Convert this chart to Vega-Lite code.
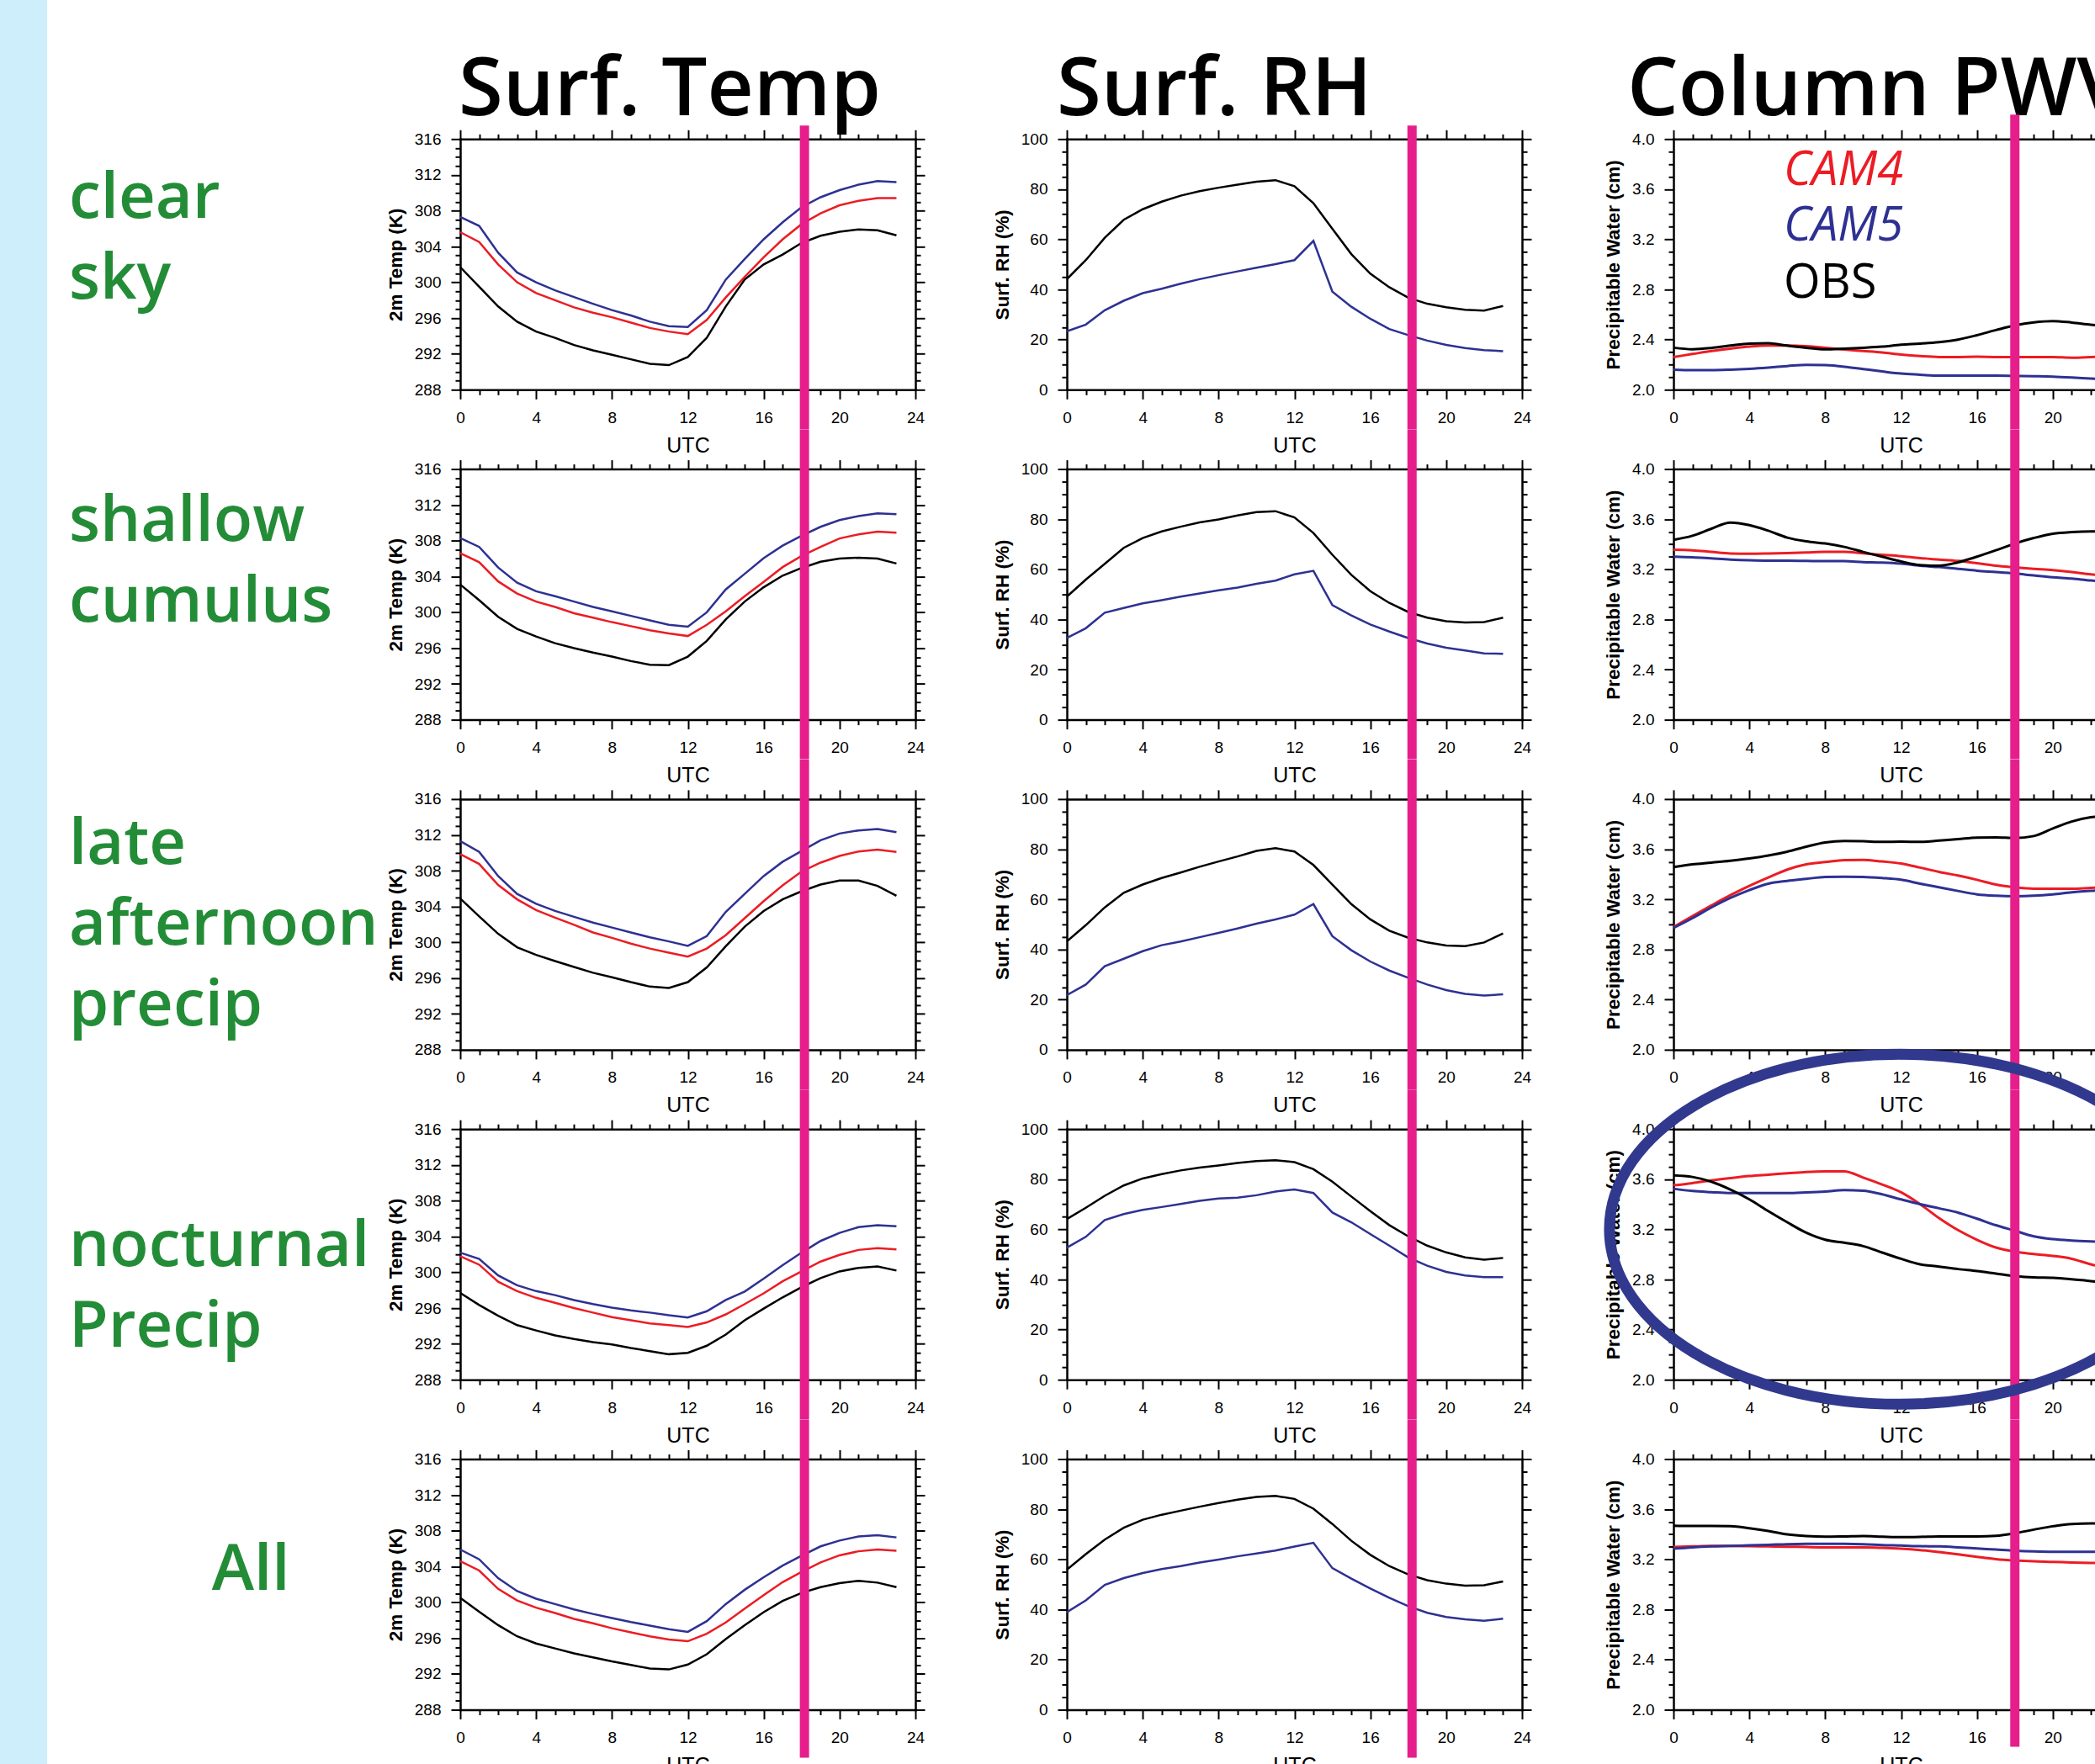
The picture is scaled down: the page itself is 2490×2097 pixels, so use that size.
{
"$schema":"https://vega.github.io/schema/vega-lite/v6.json",
"padding":0,
"background":"white",
"config":{
 "view":{"stroke":null},
 "axis":{"domainColor":"#000000","domainWidth":2.5,"domainCap":"square","tickColor":"#000000","tickWidth":2,"grid":false,"labelFont":"Liberation Sans","labelFontSize":19,"labelColor":"#000000","labelOverlap":false,"labelFlush":false,"labelBound":false,"labelPadding":12,"titleFont":"Liberation Sans","titleColor":"#000000","titlePadding":10},
 "axisX":{"titleFontSize":25,"titleFontWeight":"normal","labelPadding":13,"titlePadding":11},
 "axisY":{"titleFontSize":22.5,"titleFontWeight":"bold"},
 "title":{"font":"Open Sans","fontSize":96,"fontWeight":600,"color":"#000000","anchor":"start","frame":"group","orient":"bottom","baseline":"alphabetic","offset":-9.7}
},
"datasets":{"d":[
{"cat":"clear","utc":0,"T_CAM4":305.6,"T_CAM5":307.3,"T_OBS":301.7,"RH_CAM5":23.3,"RH_OBS":44.1,"PW_CAM4":2.261,"PW_CAM5":2.160,"PW_OBS":2.335},
{"cat":"clear","utc":1,"T_CAM4":304.5,"T_CAM5":306.3,"T_OBS":299.5,"RH_CAM5":26.0,"RH_OBS":51.7,"PW_CAM4":2.285,"PW_CAM5":2.156,"PW_OBS":2.323},
{"cat":"clear","utc":2,"T_CAM4":302.0,"T_CAM5":303.3,"T_OBS":297.3,"RH_CAM5":31.7,"RH_OBS":60.6,"PW_CAM4":2.309,"PW_CAM5":2.156,"PW_OBS":2.333},
{"cat":"clear","utc":3,"T_CAM4":300.0,"T_CAM5":301.1,"T_OBS":295.6,"RH_CAM5":35.5,"RH_OBS":67.8,"PW_CAM4":2.328,"PW_CAM5":2.160,"PW_OBS":2.352},
{"cat":"clear","utc":4,"T_CAM4":298.8,"T_CAM5":300.0,"T_OBS":294.5,"RH_CAM5":38.5,"RH_OBS":72.0,"PW_CAM4":2.344,"PW_CAM5":2.167,"PW_OBS":2.368},
{"cat":"clear","utc":5,"T_CAM4":298.0,"T_CAM5":299.1,"T_OBS":293.8,"RH_CAM5":40.3,"RH_OBS":75.0,"PW_CAM4":2.352,"PW_CAM5":2.177,"PW_OBS":2.371},
{"cat":"clear","utc":6,"T_CAM4":297.2,"T_CAM5":298.35,"T_OBS":293.0,"RH_CAM5":42.3,"RH_OBS":77.4,"PW_CAM4":2.352,"PW_CAM5":2.189,"PW_OBS":2.352},
{"cat":"clear","utc":7,"T_CAM4":296.6,"T_CAM5":297.6,"T_OBS":292.4,"RH_CAM5":44.1,"RH_OBS":79.2,"PW_CAM4":2.347,"PW_CAM5":2.199,"PW_OBS":2.335},
{"cat":"clear","utc":8,"T_CAM4":296.1,"T_CAM5":296.9,"T_OBS":291.9,"RH_CAM5":45.7,"RH_OBS":80.6,"PW_CAM4":2.335,"PW_CAM5":2.196,"PW_OBS":2.323},
{"cat":"clear","utc":9,"T_CAM4":295.5,"T_CAM5":296.3,"T_OBS":291.4,"RH_CAM5":47.2,"RH_OBS":81.8,"PW_CAM4":2.321,"PW_CAM5":2.184,"PW_OBS":2.328},
{"cat":"clear","utc":10,"T_CAM4":294.9,"T_CAM5":295.6,"T_OBS":290.9,"RH_CAM5":48.7,"RH_OBS":83.0,"PW_CAM4":2.309,"PW_CAM5":2.165,"PW_OBS":2.335},
{"cat":"clear","utc":11,"T_CAM4":294.5,"T_CAM5":295.1,"T_OBS":290.75,"RH_CAM5":50.1,"RH_OBS":83.6,"PW_CAM4":2.297,"PW_CAM5":2.146,"PW_OBS":2.344},
{"cat":"clear","utc":12,"T_CAM4":294.2,"T_CAM5":295.0,"T_OBS":291.65,"RH_CAM5":51.7,"RH_OBS":81.2,"PW_CAM4":2.280,"PW_CAM5":2.129,"PW_OBS":2.359},
{"cat":"clear","utc":13,"T_CAM4":295.8,"T_CAM5":296.9,"T_OBS":293.8,"RH_CAM5":59.4,"RH_OBS":74.4,"PW_CAM4":2.268,"PW_CAM5":2.120,"PW_OBS":2.368},
{"cat":"clear","utc":14,"T_CAM4":298.3,"T_CAM5":300.3,"T_OBS":297.3,"RH_CAM5":39.1,"RH_OBS":64.2,"PW_CAM4":2.261,"PW_CAM5":2.112,"PW_OBS":2.380},
{"cat":"clear","utc":15,"T_CAM4":300.6,"T_CAM5":302.6,"T_OBS":300.3,"RH_CAM5":33.1,"RH_OBS":54.1,"PW_CAM4":2.261,"PW_CAM5":2.112,"PW_OBS":2.400},
{"cat":"clear","utc":16,"T_CAM4":302.8,"T_CAM5":304.8,"T_OBS":302.0,"RH_CAM5":28.3,"RH_OBS":46.3,"PW_CAM4":2.263,"PW_CAM5":2.112,"PW_OBS":2.435},
{"cat":"clear","utc":17,"T_CAM4":304.8,"T_CAM5":306.7,"T_OBS":303.1,"RH_CAM5":24.2,"RH_OBS":40.9,"PW_CAM4":2.261,"PW_CAM5":2.112,"PW_OBS":2.476},
{"cat":"clear","utc":18,"T_CAM4":306.5,"T_CAM5":308.4,"T_OBS":304.4,"RH_CAM5":21.8,"RH_OBS":36.7,"PW_CAM4":2.261,"PW_CAM5":2.110,"PW_OBS":2.514},
{"cat":"clear","utc":19,"T_CAM4":307.7,"T_CAM5":309.5,"T_OBS":305.2,"RH_CAM5":19.6,"RH_OBS":34.3,"PW_CAM4":2.261,"PW_CAM5":2.108,"PW_OBS":2.538},
{"cat":"clear","utc":20,"T_CAM4":308.6,"T_CAM5":310.3,"T_OBS":305.65,"RH_CAM5":17.9,"RH_OBS":32.9,"PW_CAM4":2.261,"PW_CAM5":2.105,"PW_OBS":2.548},
{"cat":"clear","utc":21,"T_CAM4":309.1,"T_CAM5":310.9,"T_OBS":305.9,"RH_CAM5":16.6,"RH_OBS":31.9,"PW_CAM4":2.256,"PW_CAM5":2.098,"PW_OBS":2.536},
{"cat":"clear","utc":22,"T_CAM4":309.4,"T_CAM5":311.3,"T_OBS":305.8,"RH_CAM5":15.8,"RH_OBS":31.6,"PW_CAM4":2.261,"PW_CAM5":2.089,"PW_OBS":2.519},
{"cat":"clear","utc":23,"T_CAM4":309.4,"T_CAM5":311.2,"T_OBS":305.25,"RH_CAM5":15.4,"RH_OBS":33.4,"PW_CAM4":2.268,"PW_CAM5":2.081,"PW_OBS":2.507},
{"cat":"shallow","utc":0,"T_CAM4":306.6,"T_CAM5":308.3,"T_OBS":303.1,"RH_CAM5":32.6,"RH_OBS":49.1,"PW_CAM4":3.356,"PW_CAM5":3.301,"PW_OBS":3.435},
{"cat":"shallow","utc":1,"T_CAM4":305.6,"T_CAM5":307.3,"T_OBS":301.35,"RH_CAM5":36.5,"RH_OBS":55.9,"PW_CAM4":3.352,"PW_CAM5":3.296,"PW_OBS":3.468},
{"cat":"shallow","utc":2,"T_CAM4":303.45,"T_CAM5":305.0,"T_OBS":299.5,"RH_CAM5":42.7,"RH_OBS":62.2,"PW_CAM4":3.339,"PW_CAM5":3.287,"PW_OBS":3.524},
{"cat":"shallow","utc":3,"T_CAM4":302.1,"T_CAM5":303.3,"T_OBS":298.15,"RH_CAM5":44.6,"RH_OBS":68.6,"PW_CAM4":3.327,"PW_CAM5":3.278,"PW_OBS":3.573},
{"cat":"shallow","utc":4,"T_CAM4":301.2,"T_CAM5":302.35,"T_OBS":297.3,"RH_CAM5":46.4,"RH_OBS":72.5,"PW_CAM4":3.325,"PW_CAM5":3.272,"PW_OBS":3.553},
{"cat":"shallow","utc":5,"T_CAM4":300.6,"T_CAM5":301.8,"T_OBS":296.55,"RH_CAM5":47.7,"RH_OBS":75.1,"PW_CAM4":3.327,"PW_CAM5":3.269,"PW_OBS":3.508},
{"cat":"shallow","utc":6,"T_CAM4":299.9,"T_CAM5":301.2,"T_OBS":296.0,"RH_CAM5":49.1,"RH_OBS":77.0,"PW_CAM4":3.330,"PW_CAM5":3.269,"PW_OBS":3.453},
{"cat":"shallow","utc":7,"T_CAM4":299.4,"T_CAM5":300.6,"T_OBS":295.5,"RH_CAM5":50.4,"RH_OBS":78.7,"PW_CAM4":3.334,"PW_CAM5":3.267,"PW_OBS":3.423},
{"cat":"shallow","utc":8,"T_CAM4":298.9,"T_CAM5":300.1,"T_OBS":295.05,"RH_CAM5":51.6,"RH_OBS":79.9,"PW_CAM4":3.339,"PW_CAM5":3.265,"PW_OBS":3.406},
{"cat":"shallow","utc":9,"T_CAM4":298.45,"T_CAM5":299.6,"T_OBS":294.55,"RH_CAM5":52.7,"RH_OBS":81.5,"PW_CAM4":3.339,"PW_CAM5":3.265,"PW_OBS":3.379},
{"cat":"shallow","utc":10,"T_CAM4":298.0,"T_CAM5":299.1,"T_OBS":294.15,"RH_CAM5":54.2,"RH_OBS":82.8,"PW_CAM4":3.327,"PW_CAM5":3.258,"PW_OBS":3.339},
{"cat":"shallow","utc":11,"T_CAM4":297.65,"T_CAM5":298.6,"T_OBS":294.1,"RH_CAM5":55.5,"RH_OBS":83.2,"PW_CAM4":3.316,"PW_CAM5":3.254,"PW_OBS":3.301},
{"cat":"shallow","utc":12,"T_CAM4":297.35,"T_CAM5":298.4,"T_OBS":295.05,"RH_CAM5":58.0,"RH_OBS":80.7,"PW_CAM4":3.305,"PW_CAM5":3.245,"PW_OBS":3.263},
{"cat":"shallow","utc":13,"T_CAM4":298.6,"T_CAM5":300.0,"T_OBS":296.8,"RH_CAM5":59.4,"RH_OBS":74.5,"PW_CAM4":3.289,"PW_CAM5":3.229,"PW_OBS":3.234},
{"cat":"shallow","utc":14,"T_CAM4":300.1,"T_CAM5":302.55,"T_OBS":299.2,"RH_CAM5":45.7,"RH_OBS":65.8,"PW_CAM4":3.278,"PW_CAM5":3.218,"PW_OBS":3.229},
{"cat":"shallow","utc":15,"T_CAM4":301.8,"T_CAM5":304.3,"T_OBS":301.2,"RH_CAM5":41.6,"RH_OBS":57.8,"PW_CAM4":3.267,"PW_CAM5":3.204,"PW_OBS":3.256},
{"cat":"shallow","utc":16,"T_CAM4":303.4,"T_CAM5":306.05,"T_OBS":302.8,"RH_CAM5":38.0,"RH_OBS":51.3,"PW_CAM4":3.249,"PW_CAM5":3.189,"PW_OBS":3.301},
{"cat":"shallow","utc":17,"T_CAM4":305.05,"T_CAM5":307.45,"T_OBS":304.1,"RH_CAM5":35.2,"RH_OBS":46.6,"PW_CAM4":3.229,"PW_CAM5":3.178,"PW_OBS":3.352},
{"cat":"shallow","utc":18,"T_CAM4":306.3,"T_CAM5":308.55,"T_OBS":304.95,"RH_CAM5":32.6,"RH_OBS":43.0,"PW_CAM4":3.216,"PW_CAM5":3.166,"PW_OBS":3.406},
{"cat":"shallow","utc":19,"T_CAM4":307.3,"T_CAM5":309.55,"T_OBS":305.65,"RH_CAM5":30.4,"RH_OBS":40.7,"PW_CAM4":3.204,"PW_CAM5":3.151,"PW_OBS":3.450},
{"cat":"shallow","utc":20,"T_CAM4":308.25,"T_CAM5":310.3,"T_OBS":306.0,"RH_CAM5":28.7,"RH_OBS":39.3,"PW_CAM4":3.193,"PW_CAM5":3.137,"PW_OBS":3.484},
{"cat":"shallow","utc":21,"T_CAM4":308.7,"T_CAM5":310.75,"T_OBS":306.1,"RH_CAM5":27.6,"RH_OBS":38.8,"PW_CAM4":3.178,"PW_CAM5":3.126,"PW_OBS":3.497},
{"cat":"shallow","utc":22,"T_CAM4":309.0,"T_CAM5":311.05,"T_OBS":306.0,"RH_CAM5":26.5,"RH_OBS":39.0,"PW_CAM4":3.160,"PW_CAM5":3.111,"PW_OBS":3.502},
{"cat":"shallow","utc":23,"T_CAM4":308.9,"T_CAM5":310.95,"T_OBS":305.45,"RH_CAM5":26.3,"RH_OBS":40.7,"PW_CAM4":3.149,"PW_CAM5":3.100,"PW_OBS":3.499},
{"cat":"late","utc":0,"T_CAM4":309.85,"T_CAM5":311.3,"T_OBS":304.9,"RH_CAM5":21.8,"RH_OBS":43.2,"PW_CAM4":2.979,"PW_CAM5":2.972,"PW_OBS":3.457},
{"cat":"late","utc":1,"T_CAM4":308.75,"T_CAM5":310.1,"T_OBS":302.9,"RH_CAM5":26.0,"RH_OBS":49.7,"PW_CAM4":3.066,"PW_CAM5":3.050,"PW_OBS":3.479},
{"cat":"late","utc":2,"T_CAM4":306.4,"T_CAM5":307.4,"T_OBS":300.95,"RH_CAM5":33.3,"RH_OBS":56.8,"PW_CAM4":3.151,"PW_CAM5":3.135,"PW_OBS":3.493},
{"cat":"late","utc":3,"T_CAM4":304.8,"T_CAM5":305.4,"T_OBS":299.45,"RH_CAM5":36.3,"RH_OBS":62.6,"PW_CAM4":3.233,"PW_CAM5":3.211,"PW_OBS":3.508},
{"cat":"late","utc":4,"T_CAM4":303.6,"T_CAM5":304.3,"T_OBS":298.6,"RH_CAM5":39.3,"RH_OBS":65.9,"PW_CAM4":3.307,"PW_CAM5":3.274,"PW_OBS":3.526},
{"cat":"late","utc":5,"T_CAM4":302.75,"T_CAM5":303.5,"T_OBS":297.9,"RH_CAM5":41.7,"RH_OBS":68.5,"PW_CAM4":3.374,"PW_CAM5":3.325,"PW_OBS":3.549},
{"cat":"late","utc":6,"T_CAM4":301.95,"T_CAM5":302.85,"T_OBS":297.25,"RH_CAM5":43.2,"RH_OBS":70.7,"PW_CAM4":3.437,"PW_CAM5":3.347,"PW_OBS":3.580},
{"cat":"late","utc":7,"T_CAM4":301.1,"T_CAM5":302.2,"T_OBS":296.6,"RH_CAM5":44.9,"RH_OBS":73.0,"PW_CAM4":3.479,"PW_CAM5":3.363,"PW_OBS":3.620},
{"cat":"late","utc":8,"T_CAM4":300.5,"T_CAM5":301.65,"T_OBS":296.1,"RH_CAM5":46.6,"RH_OBS":75.1,"PW_CAM4":3.497,"PW_CAM5":3.379,"PW_OBS":3.654},
{"cat":"late","utc":9,"T_CAM4":299.85,"T_CAM5":301.1,"T_OBS":295.55,"RH_CAM5":48.4,"RH_OBS":77.1,"PW_CAM4":3.513,"PW_CAM5":3.381,"PW_OBS":3.665},
{"cat":"late","utc":10,"T_CAM4":299.3,"T_CAM5":300.55,"T_OBS":295.05,"RH_CAM5":50.3,"RH_OBS":79.3,"PW_CAM4":3.515,"PW_CAM5":3.379,"PW_OBS":3.663},
{"cat":"late","utc":11,"T_CAM4":298.85,"T_CAM5":300.1,"T_OBS":294.9,"RH_CAM5":52.0,"RH_OBS":80.4,"PW_CAM4":3.502,"PW_CAM5":3.370,"PW_OBS":3.658},
{"cat":"late","utc":12,"T_CAM4":298.4,"T_CAM5":299.6,"T_OBS":295.55,"RH_CAM5":53.9,"RH_OBS":79.1,"PW_CAM4":3.486,"PW_CAM5":3.356,"PW_OBS":3.660},
{"cat":"late","utc":13,"T_CAM4":299.3,"T_CAM5":300.7,"T_OBS":297.2,"RH_CAM5":58.1,"RH_OBS":73.7,"PW_CAM4":3.453,"PW_CAM5":3.325,"PW_OBS":3.658},
{"cat":"late","utc":14,"T_CAM4":300.8,"T_CAM5":303.4,"T_OBS":299.55,"RH_CAM5":45.3,"RH_OBS":65.9,"PW_CAM4":3.419,"PW_CAM5":3.296,"PW_OBS":3.669},
{"cat":"late","utc":15,"T_CAM4":302.7,"T_CAM5":305.4,"T_OBS":301.75,"RH_CAM5":39.7,"RH_OBS":58.1,"PW_CAM4":3.390,"PW_CAM5":3.267,"PW_OBS":3.680},
{"cat":"late","utc":16,"T_CAM4":304.6,"T_CAM5":307.4,"T_OBS":303.5,"RH_CAM5":35.2,"RH_OBS":52.0,"PW_CAM4":3.356,"PW_CAM5":3.240,"PW_OBS":3.692},
{"cat":"late","utc":17,"T_CAM4":306.35,"T_CAM5":309.0,"T_OBS":304.8,"RH_CAM5":31.6,"RH_OBS":47.5,"PW_CAM4":3.318,"PW_CAM5":3.229,"PW_OBS":3.694},
{"cat":"late","utc":18,"T_CAM4":307.9,"T_CAM5":310.2,"T_OBS":305.7,"RH_CAM5":28.7,"RH_OBS":44.7,"PW_CAM4":3.296,"PW_CAM5":3.225,"PW_OBS":3.689},
{"cat":"late","utc":19,"T_CAM4":308.9,"T_CAM5":311.4,"T_OBS":306.45,"RH_CAM5":26.0,"RH_OBS":42.8,"PW_CAM4":3.285,"PW_CAM5":3.229,"PW_OBS":3.705},
{"cat":"late","utc":20,"T_CAM4":309.65,"T_CAM5":312.15,"T_OBS":306.9,"RH_CAM5":23.8,"RH_OBS":41.6,"PW_CAM4":3.285,"PW_CAM5":3.240,"PW_OBS":3.765},
{"cat":"late","utc":21,"T_CAM4":310.15,"T_CAM5":312.5,"T_OBS":306.9,"RH_CAM5":22.3,"RH_OBS":41.3,"PW_CAM4":3.285,"PW_CAM5":3.256,"PW_OBS":3.821},
{"cat":"late","utc":22,"T_CAM4":310.35,"T_CAM5":312.65,"T_OBS":306.3,"RH_CAM5":21.6,"RH_OBS":42.8,"PW_CAM4":3.291,"PW_CAM5":3.267,"PW_OBS":3.855},
{"cat":"late","utc":23,"T_CAM4":310.1,"T_CAM5":312.3,"T_OBS":305.2,"RH_CAM5":22.1,"RH_OBS":46.4,"PW_CAM4":3.296,"PW_CAM5":3.274,"PW_OBS":3.866},
{"cat":"noct","utc":0,"T_CAM4":301.8,"T_CAM5":302.2,"T_OBS":297.7,"RH_CAM5":52.7,"RH_OBS":64.1,"PW_CAM4":3.551,"PW_CAM5":3.524,"PW_OBS":3.631},
{"cat":"noct","utc":1,"T_CAM4":300.85,"T_CAM5":301.5,"T_OBS":296.35,"RH_CAM5":57.0,"RH_OBS":68.6,"PW_CAM4":3.569,"PW_CAM5":3.506,"PW_OBS":3.618},
{"cat":"noct","utc":2,"T_CAM4":298.95,"T_CAM5":299.65,"T_OBS":295.15,"RH_CAM5":63.7,"RH_OBS":73.4,"PW_CAM4":3.591,"PW_CAM5":3.497,"PW_OBS":3.580},
{"cat":"noct","utc":3,"T_CAM4":297.9,"T_CAM5":298.55,"T_OBS":294.1,"RH_CAM5":66.1,"RH_OBS":77.5,"PW_CAM4":3.609,"PW_CAM5":3.490,"PW_OBS":3.517},
{"cat":"noct","utc":4,"T_CAM4":297.15,"T_CAM5":297.9,"T_OBS":293.5,"RH_CAM5":67.8,"RH_OBS":80.3,"PW_CAM4":3.625,"PW_CAM5":3.490,"PW_OBS":3.439},
{"cat":"noct","utc":5,"T_CAM4":296.6,"T_CAM5":297.45,"T_OBS":292.95,"RH_CAM5":68.9,"RH_OBS":82.0,"PW_CAM4":3.636,"PW_CAM5":3.490,"PW_OBS":3.345},
{"cat":"noct","utc":6,"T_CAM4":296.0,"T_CAM5":296.9,"T_OBS":292.55,"RH_CAM5":70.1,"RH_OBS":83.5,"PW_CAM4":3.647,"PW_CAM5":3.490,"PW_OBS":3.256},
{"cat":"noct","utc":7,"T_CAM4":295.5,"T_CAM5":296.45,"T_OBS":292.2,"RH_CAM5":71.4,"RH_OBS":84.6,"PW_CAM4":3.658,"PW_CAM5":3.495,"PW_OBS":3.173},
{"cat":"noct","utc":8,"T_CAM4":295.0,"T_CAM5":296.05,"T_OBS":291.95,"RH_CAM5":72.3,"RH_OBS":85.5,"PW_CAM4":3.663,"PW_CAM5":3.502,"PW_OBS":3.117},
{"cat":"noct","utc":9,"T_CAM4":294.65,"T_CAM5":295.75,"T_OBS":291.55,"RH_CAM5":72.6,"RH_OBS":86.5,"PW_CAM4":3.663,"PW_CAM5":3.513,"PW_OBS":3.093},
{"cat":"noct","utc":10,"T_CAM4":294.3,"T_CAM5":295.5,"T_OBS":291.2,"RH_CAM5":73.6,"RH_OBS":87.2,"PW_CAM4":3.613,"PW_CAM5":3.508,"PW_OBS":3.066},
{"cat":"noct","utc":11,"T_CAM4":294.1,"T_CAM5":295.2,"T_OBS":290.85,"RH_CAM5":75.1,"RH_OBS":87.6,"PW_CAM4":3.558,"PW_CAM5":3.479,"PW_OBS":3.015},
{"cat":"noct","utc":12,"T_CAM4":293.9,"T_CAM5":294.95,"T_OBS":291.0,"RH_CAM5":75.9,"RH_OBS":86.8,"PW_CAM4":3.495,"PW_CAM5":3.439,"PW_OBS":2.965},
{"cat":"noct","utc":13,"T_CAM4":294.4,"T_CAM5":295.65,"T_OBS":291.8,"RH_CAM5":74.5,"RH_OBS":84.0,"PW_CAM4":3.401,"PW_CAM5":3.401,"PW_OBS":2.921},
{"cat":"noct","utc":14,"T_CAM4":295.3,"T_CAM5":296.9,"T_OBS":293.05,"RH_CAM5":66.7,"RH_OBS":79.0,"PW_CAM4":3.290,"PW_CAM5":3.368,"PW_OBS":2.903},
{"cat":"noct","utc":15,"T_CAM4":296.45,"T_CAM5":297.85,"T_OBS":294.65,"RH_CAM5":62.8,"RH_OBS":73.1,"PW_CAM4":3.194,"PW_CAM5":3.334,"PW_OBS":2.883},
{"cat":"noct","utc":16,"T_CAM4":297.65,"T_CAM5":299.3,"T_OBS":295.95,"RH_CAM5":58.1,"RH_OBS":67.3,"PW_CAM4":3.117,"PW_CAM5":3.285,"PW_OBS":2.867},
{"cat":"noct","utc":17,"T_CAM4":299.0,"T_CAM5":300.8,"T_OBS":297.2,"RH_CAM5":53.5,"RH_OBS":61.7,"PW_CAM4":3.055,"PW_CAM5":3.233,"PW_OBS":2.847},
{"cat":"noct","utc":18,"T_CAM4":300.1,"T_CAM5":302.2,"T_OBS":298.35,"RH_CAM5":48.8,"RH_OBS":57.2,"PW_CAM4":3.021,"PW_CAM5":3.189,"PW_OBS":2.827},
{"cat":"noct","utc":19,"T_CAM4":301.2,"T_CAM5":303.5,"T_OBS":299.35,"RH_CAM5":45.5,"RH_OBS":53.5,"PW_CAM4":3.003,"PW_CAM5":3.144,"PW_OBS":2.816},
{"cat":"noct","utc":20,"T_CAM4":301.95,"T_CAM5":304.4,"T_OBS":300.1,"RH_CAM5":43.0,"RH_OBS":50.8,"PW_CAM4":2.988,"PW_CAM5":3.122,"PW_OBS":2.813},
{"cat":"noct","utc":21,"T_CAM4":302.5,"T_CAM5":305.05,"T_OBS":300.5,"RH_CAM5":41.6,"RH_OBS":48.8,"PW_CAM4":2.965,"PW_CAM5":3.111,"PW_OBS":2.802},
{"cat":"noct","utc":22,"T_CAM4":302.7,"T_CAM5":305.25,"T_OBS":300.65,"RH_CAM5":40.9,"RH_OBS":47.9,"PW_CAM4":2.921,"PW_CAM5":3.104,"PW_OBS":2.787},
{"cat":"noct","utc":23,"T_CAM4":302.55,"T_CAM5":305.15,"T_OBS":300.2,"RH_CAM5":40.9,"RH_OBS":48.6,"PW_CAM4":2.887,"PW_CAM5":3.099,"PW_OBS":2.775},
{"cat":"all","utc":0,"T_CAM4":304.6,"T_CAM5":305.9,"T_OBS":300.5,"RH_CAM5":38.9,"RH_OBS":55.9,"PW_CAM4":3.298,"PW_CAM5":3.285,"PW_OBS":3.468},
{"cat":"all","utc":1,"T_CAM4":303.55,"T_CAM5":304.8,"T_OBS":298.95,"RH_CAM5":43.6,"RH_OBS":62.1,"PW_CAM4":3.303,"PW_CAM5":3.296,"PW_OBS":3.466},
{"cat":"all","utc":2,"T_CAM4":301.5,"T_CAM5":302.7,"T_OBS":297.45,"RH_CAM5":49.8,"RH_OBS":67.9,"PW_CAM4":3.307,"PW_CAM5":3.303,"PW_OBS":3.466},
{"cat":"all","utc":3,"T_CAM4":300.2,"T_CAM5":301.25,"T_OBS":296.2,"RH_CAM5":52.5,"RH_OBS":72.6,"PW_CAM4":3.307,"PW_CAM5":3.307,"PW_OBS":3.464},
{"cat":"all","utc":4,"T_CAM4":299.4,"T_CAM5":300.4,"T_OBS":295.4,"RH_CAM5":54.5,"RH_OBS":75.8,"PW_CAM4":3.305,"PW_CAM5":3.312,"PW_OBS":3.448},
{"cat":"all","utc":5,"T_CAM4":298.8,"T_CAM5":299.8,"T_OBS":294.85,"RH_CAM5":56.1,"RH_OBS":77.8,"PW_CAM4":3.303,"PW_CAM5":3.316,"PW_OBS":3.426},
{"cat":"all","utc":6,"T_CAM4":298.15,"T_CAM5":299.2,"T_OBS":294.3,"RH_CAM5":57.3,"RH_OBS":79.4,"PW_CAM4":3.301,"PW_CAM5":3.321,"PW_OBS":3.399},
{"cat":"all","utc":7,"T_CAM4":297.65,"T_CAM5":298.7,"T_OBS":293.85,"RH_CAM5":58.7,"RH_OBS":81.0,"PW_CAM4":3.298,"PW_CAM5":3.323,"PW_OBS":3.386},
{"cat":"all","utc":8,"T_CAM4":297.1,"T_CAM5":298.25,"T_OBS":293.4,"RH_CAM5":59.9,"RH_OBS":82.5,"PW_CAM4":3.296,"PW_CAM5":3.323,"PW_OBS":3.381},
{"cat":"all","utc":9,"T_CAM4":296.65,"T_CAM5":297.8,"T_OBS":293.0,"RH_CAM5":61.2,"RH_OBS":83.8,"PW_CAM4":3.296,"PW_CAM5":3.323,"PW_OBS":3.383},
{"cat":"all","utc":10,"T_CAM4":296.2,"T_CAM5":297.4,"T_OBS":292.6,"RH_CAM5":62.3,"RH_OBS":84.9,"PW_CAM4":3.296,"PW_CAM5":3.321,"PW_OBS":3.386},
{"cat":"all","utc":11,"T_CAM4":295.85,"T_CAM5":297.0,"T_OBS":292.5,"RH_CAM5":63.5,"RH_OBS":85.3,"PW_CAM4":3.292,"PW_CAM5":3.314,"PW_OBS":3.381},
{"cat":"all","utc":12,"T_CAM4":295.65,"T_CAM5":296.7,"T_OBS":293.05,"RH_CAM5":65.1,"RH_OBS":84.1,"PW_CAM4":3.285,"PW_CAM5":3.310,"PW_OBS":3.377},
{"cat":"all","utc":13,"T_CAM4":296.5,"T_CAM5":297.9,"T_OBS":294.2,"RH_CAM5":66.6,"RH_OBS":80.2,"PW_CAM4":3.274,"PW_CAM5":3.305,"PW_OBS":3.379},
{"cat":"all","utc":14,"T_CAM4":297.75,"T_CAM5":299.8,"T_OBS":295.9,"RH_CAM5":56.5,"RH_OBS":74.1,"PW_CAM4":3.258,"PW_CAM5":3.303,"PW_OBS":3.383},
{"cat":"all","utc":15,"T_CAM4":299.3,"T_CAM5":301.4,"T_OBS":297.45,"RH_CAM5":52.3,"RH_OBS":67.4,"PW_CAM4":3.240,"PW_CAM5":3.296,"PW_OBS":3.383},
{"cat":"all","utc":16,"T_CAM4":300.8,"T_CAM5":302.8,"T_OBS":298.9,"RH_CAM5":48.4,"RH_OBS":61.8,"PW_CAM4":3.220,"PW_CAM5":3.287,"PW_OBS":3.383},
{"cat":"all","utc":17,"T_CAM4":302.25,"T_CAM5":304.1,"T_OBS":300.15,"RH_CAM5":44.7,"RH_OBS":57.3,"PW_CAM4":3.202,"PW_CAM5":3.278,"PW_OBS":3.388},
{"cat":"all","utc":18,"T_CAM4":303.4,"T_CAM5":305.2,"T_OBS":301.05,"RH_CAM5":41.3,"RH_OBS":54.0,"PW_CAM4":3.191,"PW_CAM5":3.269,"PW_OBS":3.408},
{"cat":"all","utc":19,"T_CAM4":304.45,"T_CAM5":306.25,"T_OBS":301.7,"RH_CAM5":38.7,"RH_OBS":51.7,"PW_CAM4":3.184,"PW_CAM5":3.263,"PW_OBS":3.437},
{"cat":"all","utc":20,"T_CAM4":305.25,"T_CAM5":306.9,"T_OBS":302.15,"RH_CAM5":37.0,"RH_OBS":50.3,"PW_CAM4":3.180,"PW_CAM5":3.260,"PW_OBS":3.464},
{"cat":"all","utc":21,"T_CAM4":305.7,"T_CAM5":307.35,"T_OBS":302.4,"RH_CAM5":36.1,"RH_OBS":49.5,"PW_CAM4":3.175,"PW_CAM5":3.260,"PW_OBS":3.482},
{"cat":"all","utc":22,"T_CAM4":305.9,"T_CAM5":307.5,"T_OBS":302.2,"RH_CAM5":35.5,"RH_OBS":49.7,"PW_CAM4":3.171,"PW_CAM5":3.260,"PW_OBS":3.486},
{"cat":"all","utc":23,"T_CAM4":305.75,"T_CAM5":307.25,"T_OBS":301.7,"RH_CAM5":36.3,"RH_OBS":51.2,"PW_CAM4":3.169,"PW_CAM5":3.260,"PW_OBS":3.486}
]},
"data":{"name":"d"},
"spacing":26,
"hconcat":[
 {"width":56,"height":2110,"view":{"fill":"#cdeefa","stroke":null},"data":{"values":[{"t":""}]},"mark":{"type":"text"},"encoding":{"text":{"field":"t","type":"nominal"}}},
 {"columns":4,"spacing":{"row":94.3,"column":180},"bounds":"flush","concat":[
  {"width":285,"height":70.7,"data":{"values":[{"t":""}]},"mark":{"type":"text"},"encoding":{"text":{"field":"t","type":"nominal"}}},
  {"width":541,"height":70.7,"data":{"values":[{"t":""}]},"mark":{"type":"text"},"encoding":{"text":{"field":"t","type":"nominal"}},"title":{"text":"Surf. Temp","dx":-2}},
  {"width":541,"height":70.7,"data":{"values":[{"t":""}]},"mark":{"type":"text"},"encoding":{"text":{"field":"t","type":"nominal"}},"title":{"text":"Surf. RH","dx":-12}},
  {"width":541,"height":70.7,"data":{"values":[{"t":""}]},"mark":{"type":"text"},"encoding":{"text":{"field":"t","type":"nominal"}},"title":{"text":"Column PWV","dx":-55}},

  {"width":285,"height":298,"data":{"values":[{"label":"clear|sky"}]},"mark":{"type":"text","align":"left","baseline":"alphabetic","lineBreak":"|","fontSize":76,"fontWeight":600,"lineHeight":96,"font":"Open Sans","color":"#238c37"},"encoding":{"text":{"field":"label","type":"nominal"},"x":{"datum":0,"type":"quantitative","scale":{"domain":[0,1]},"axis":null},"y":{"datum":0.315,"type":"quantitative","scale":{"domain":[0,1],"reverse":true},"axis":null}}},
  {"width":541,"height":298,"layer":[
   {"transform":[{"filter":"datum.cat === 'clear'"},{"fold":["T_CAM4","T_CAM5","T_OBS"],"as":["series","value"]}],"mark":{"type":"line","strokeWidth":2.5},"encoding":{"x":{"field":"utc","type":"quantitative","scale":{"domain":[0,24],"nice":false},"axis":{"orient":"bottom","values":[0,1,2,3,4,5,6,7,8,9,10,11,12,13,14,15,16,17,18,19,20,21,22,23,24],"labelExpr":"datum.value % 4 === 0 ? datum.label : ''","tickSize":{"condition":{"test":"datum.value % 4 === 0","value":11},"value":6},"title":"UTC"}},"y":{"field":"value","type":"quantitative","scale":{"domain":[288,316],"nice":false,"zero":false},"axis":{"orient":"left","values":[288,289,290,291,292,293,294,295,296,297,298,299,300,301,302,303,304,305,306,307,308,309,310,311,312,313,314,315,316],"labelExpr":"datum.value % 4 === 0 ? datum.label : ''","tickSize":{"condition":{"test":"datum.value % 4 === 0","value":11},"value":6},"title":"2m Temp (K)"}},"color":{"field":"series","type":"nominal","scale":{"domain":["T_CAM4","T_CAM5","T_OBS","RH_CAM5","RH_OBS","PW_CAM4","PW_CAM5","PW_OBS"],"range":["#ec1c24","#2e3192","#000000","#2e3192","#000000","#ec1c24","#2e3192","#000000"]},"legend":null}}},
   {"transform":[{"filter":"datum.cat === 'clear'"},{"fold":["T_CAM4","T_CAM5","T_OBS"],"as":["series","value"]}],"mark":{"type":"point","opacity":0},"encoding":{"x":{"field":"utc","type":"quantitative","scale":{"domain":[0,24],"nice":false},"axis":{"orient":"top","values":[0,1,2,3,4,5,6,7,8,9,10,11,12,13,14,15,16,17,18,19,20,21,22,23,24],"labels":false,"tickSize":{"condition":{"test":"datum.value % 4 === 0","value":11},"value":6},"title":null}},"y":{"field":"value","type":"quantitative","scale":{"domain":[288,316],"nice":false,"zero":false},"axis":{"orient":"right","values":[288,289,290,291,292,293,294,295,296,297,298,299,300,301,302,303,304,305,306,307,308,309,310,311,312,313,314,315,316],"labels":false,"tickSize":{"condition":{"test":"datum.value % 4 === 0","value":11},"value":6},"title":null}}}},
   {"data":{"values":[{"utc":18.15}]},"mark":{"type":"rule","color":"#e61e8c","strokeWidth":11},"encoding":{"x":{"field":"utc","type":"quantitative","axis":null},"y":{"datum":283.584,"type":"quantitative","axis":null},"y2":{"datum":317.503}}}
  ],"resolve":{"axis":{"x":"independent","y":"independent"}}},
  {"width":541,"height":298,"layer":[
   {"transform":[{"filter":"datum.cat === 'clear'"},{"fold":["RH_CAM5","RH_OBS"],"as":["series","value"]}],"mark":{"type":"line","strokeWidth":2.5},"encoding":{"x":{"field":"utc","type":"quantitative","scale":{"domain":[0,24],"nice":false},"axis":{"orient":"bottom","values":[0,1,2,3,4,5,6,7,8,9,10,11,12,13,14,15,16,17,18,19,20,21,22,23,24],"labelExpr":"datum.value % 4 === 0 ? datum.label : ''","tickSize":{"condition":{"test":"datum.value % 4 === 0","value":11},"value":6},"title":"UTC"}},"y":{"field":"value","type":"quantitative","scale":{"domain":[0,100],"nice":false},"axis":{"orient":"left","values":[0,5,10,15,20,25,30,35,40,45,50,55,60,65,70,75,80,85,90,95,100],"labelExpr":"datum.value % 20 === 0 ? datum.label : ''","tickSize":{"condition":{"test":"datum.value % 20 === 0","value":11},"value":6},"title":"Surf. RH (%)"}},"color":{"field":"series","type":"nominal","scale":{"domain":["T_CAM4","T_CAM5","T_OBS","RH_CAM5","RH_OBS","PW_CAM4","PW_CAM5","PW_OBS"],"range":["#ec1c24","#2e3192","#000000","#2e3192","#000000","#ec1c24","#2e3192","#000000"]},"legend":null}}},
   {"transform":[{"filter":"datum.cat === 'clear'"},{"fold":["RH_CAM5","RH_OBS"],"as":["series","value"]}],"mark":{"type":"point","opacity":0},"encoding":{"x":{"field":"utc","type":"quantitative","scale":{"domain":[0,24],"nice":false},"axis":{"orient":"top","values":[0,1,2,3,4,5,6,7,8,9,10,11,12,13,14,15,16,17,18,19,20,21,22,23,24],"labels":false,"tickSize":{"condition":{"test":"datum.value % 4 === 0","value":11},"value":6},"title":null}},"y":{"field":"value","type":"quantitative","scale":{"domain":[0,100],"nice":false},"axis":{"orient":"right","values":[0,5,10,15,20,25,30,35,40,45,50,55,60,65,70,75,80,85,90,95,100],"labels":false,"tickSize":{"condition":{"test":"datum.value % 20 === 0","value":11},"value":6},"title":null}}}},
   {"data":{"values":[{"utc":18.2}]},"mark":{"type":"rule","color":"#e61e8c","strokeWidth":11},"encoding":{"x":{"field":"utc","type":"quantitative","axis":null},"y":{"datum":-15.772,"type":"quantitative","axis":null},"y2":{"datum":105.369}}}
  ],"resolve":{"axis":{"x":"independent","y":"independent"}}},
  {"width":541,"height":298,"layer":[
   {"transform":[{"filter":"datum.cat === 'clear'"},{"fold":["PW_CAM4","PW_CAM5","PW_OBS"],"as":["series","value"]}],"mark":{"type":"line","strokeWidth":3,"interpolate":"monotone"},"encoding":{"x":{"field":"utc","type":"quantitative","scale":{"domain":[0,24],"nice":false},"axis":{"orient":"bottom","values":[0,1,2,3,4,5,6,7,8,9,10,11,12,13,14,15,16,17,18,19,20,21,22,23,24],"labelExpr":"datum.value % 4 === 0 ? datum.label : ''","tickSize":{"condition":{"test":"datum.value % 4 === 0","value":11},"value":6},"title":"UTC"}},"y":{"field":"value","type":"quantitative","scale":{"domain":[2,4],"nice":false,"zero":false},"axis":{"orient":"left","values":[2,2.1,2.2,2.3,2.4,2.5,2.6,2.7,2.8,2.9,3,3.1,3.2,3.3,3.4,3.5,3.6,3.7,3.8,3.9,4],"format":".1f","labelExpr":"round(datum.value*10) % 4 === 0 ? datum.label : ''","tickSize":{"condition":{"test":"round(datum.value*10) % 4 === 0","value":11},"value":6},"title":"Precipitable Water (cm)"}},"color":{"field":"series","type":"nominal","scale":{"domain":["T_CAM4","T_CAM5","T_OBS","RH_CAM5","RH_OBS","PW_CAM4","PW_CAM5","PW_OBS"],"range":["#ec1c24","#2e3192","#000000","#2e3192","#000000","#ec1c24","#2e3192","#000000"]},"legend":null}}},
   {"transform":[{"filter":"datum.cat === 'clear'"},{"fold":["PW_CAM4","PW_CAM5","PW_OBS"],"as":["series","value"]}],"mark":{"type":"point","opacity":0},"encoding":{"x":{"field":"utc","type":"quantitative","scale":{"domain":[0,24],"nice":false},"axis":{"orient":"top","values":[0,1,2,3,4,5,6,7,8,9,10,11,12,13,14,15,16,17,18,19,20,21,22,23,24],"labels":false,"tickSize":{"condition":{"test":"datum.value % 4 === 0","value":11},"value":6},"title":null}},"y":{"field":"value","type":"quantitative","scale":{"domain":[2,4],"nice":false,"zero":false},"axis":{"orient":"right","values":[2,2.1,2.2,2.3,2.4,2.5,2.6,2.7,2.8,2.9,3,3.1,3.2,3.3,3.4,3.5,3.6,3.7,3.8,3.9,4],"labels":false,"tickSize":{"condition":{"test":"round(datum.value*10) % 4 === 0","value":11},"value":6},"title":null}}}},
   {"data":{"values":[{"utc":18.0}]},"mark":{"type":"rule","color":"#e61e8c","strokeWidth":11},"encoding":{"x":{"field":"utc","type":"quantitative","axis":null},"y":{"datum":1.68456,"type":"quantitative","axis":null},"y2":{"datum":4.19463}}},
   {"data":{"values":[{"label":"CAM4"}]},"mark":{"type":"text","align":"left","baseline":"alphabetic","font":"Open Sans","fontSize":56,"fontStyle":"italic","color":"#ec1c24"},"encoding":{"text":{"field":"label","type":"nominal"},"x":{"datum":5.81,"type":"quantitative","axis":null},"y":{"datum":3.631,"type":"quantitative","axis":null}}},
   {"data":{"values":[{"label":"CAM5"}]},"mark":{"type":"text","align":"left","baseline":"alphabetic","font":"Open Sans","fontSize":56,"fontStyle":"italic","color":"#2e3192"},"encoding":{"text":{"field":"label","type":"nominal"},"x":{"datum":5.81,"type":"quantitative","axis":null},"y":{"datum":3.188,"type":"quantitative","axis":null}}},
   {"data":{"values":[{"label":"OBS"}]},"mark":{"type":"text","align":"left","baseline":"alphabetic","font":"Open Sans","fontSize":56,"color":"#000000"},"encoding":{"text":{"field":"label","type":"nominal"},"x":{"datum":5.81,"type":"quantitative","axis":null},"y":{"datum":2.732,"type":"quantitative","axis":null}}}
  ],"resolve":{"axis":{"x":"independent","y":"independent"}}},

  {"width":285,"height":298,"data":{"values":[{"label":"shallow|cumulus"}]},"mark":{"type":"text","align":"left","baseline":"alphabetic","lineBreak":"|","fontSize":76,"fontWeight":600,"lineHeight":96,"font":"Open Sans","color":"#238c37"},"encoding":{"text":{"field":"label","type":"nominal"},"x":{"datum":0,"type":"quantitative","scale":{"domain":[0,1]},"axis":null},"y":{"datum":0.285,"type":"quantitative","scale":{"domain":[0,1],"reverse":true},"axis":null}}},
  {"width":541,"height":298,"layer":[
   {"transform":[{"filter":"datum.cat === 'shallow'"},{"fold":["T_CAM4","T_CAM5","T_OBS"],"as":["series","value"]}],"mark":{"type":"line","strokeWidth":2.5},"encoding":{"x":{"field":"utc","type":"quantitative","scale":{"domain":[0,24],"nice":false},"axis":{"orient":"bottom","values":[0,1,2,3,4,5,6,7,8,9,10,11,12,13,14,15,16,17,18,19,20,21,22,23,24],"labelExpr":"datum.value % 4 === 0 ? datum.label : ''","tickSize":{"condition":{"test":"datum.value % 4 === 0","value":11},"value":6},"title":"UTC"}},"y":{"field":"value","type":"quantitative","scale":{"domain":[288,316],"nice":false,"zero":false},"axis":{"orient":"left","values":[288,289,290,291,292,293,294,295,296,297,298,299,300,301,302,303,304,305,306,307,308,309,310,311,312,313,314,315,316],"labelExpr":"datum.value % 4 === 0 ? datum.label : ''","tickSize":{"condition":{"test":"datum.value % 4 === 0","value":11},"value":6},"title":"2m Temp (K)"}},"color":{"field":"series","type":"nominal","scale":{"domain":["T_CAM4","T_CAM5","T_OBS","RH_CAM5","RH_OBS","PW_CAM4","PW_CAM5","PW_OBS"],"range":["#ec1c24","#2e3192","#000000","#2e3192","#000000","#ec1c24","#2e3192","#000000"]},"legend":null}}},
   {"transform":[{"filter":"datum.cat === 'shallow'"},{"fold":["T_CAM4","T_CAM5","T_OBS"],"as":["series","value"]}],"mark":{"type":"point","opacity":0},"encoding":{"x":{"field":"utc","type":"quantitative","scale":{"domain":[0,24],"nice":false},"axis":{"orient":"top","values":[0,1,2,3,4,5,6,7,8,9,10,11,12,13,14,15,16,17,18,19,20,21,22,23,24],"labels":false,"tickSize":{"condition":{"test":"datum.value % 4 === 0","value":11},"value":6},"title":null}},"y":{"field":"value","type":"quantitative","scale":{"domain":[288,316],"nice":false,"zero":false},"axis":{"orient":"right","values":[288,289,290,291,292,293,294,295,296,297,298,299,300,301,302,303,304,305,306,307,308,309,310,311,312,313,314,315,316],"labels":false,"tickSize":{"condition":{"test":"datum.value % 4 === 0","value":11},"value":6},"title":null}}}},
   {"data":{"values":[{"utc":18.15}]},"mark":{"type":"rule","color":"#e61e8c","strokeWidth":11},"encoding":{"x":{"field":"utc","type":"quantitative","axis":null},"y":{"datum":283.584,"type":"quantitative","axis":null},"y2":{"datum":320.416}}}
  ],"resolve":{"axis":{"x":"independent","y":"independent"}}},
  {"width":541,"height":298,"layer":[
   {"transform":[{"filter":"datum.cat === 'shallow'"},{"fold":["RH_CAM5","RH_OBS"],"as":["series","value"]}],"mark":{"type":"line","strokeWidth":2.5},"encoding":{"x":{"field":"utc","type":"quantitative","scale":{"domain":[0,24],"nice":false},"axis":{"orient":"bottom","values":[0,1,2,3,4,5,6,7,8,9,10,11,12,13,14,15,16,17,18,19,20,21,22,23,24],"labelExpr":"datum.value % 4 === 0 ? datum.label : ''","tickSize":{"condition":{"test":"datum.value % 4 === 0","value":11},"value":6},"title":"UTC"}},"y":{"field":"value","type":"quantitative","scale":{"domain":[0,100],"nice":false},"axis":{"orient":"left","values":[0,5,10,15,20,25,30,35,40,45,50,55,60,65,70,75,80,85,90,95,100],"labelExpr":"datum.value % 20 === 0 ? datum.label : ''","tickSize":{"condition":{"test":"datum.value % 20 === 0","value":11},"value":6},"title":"Surf. RH (%)"}},"color":{"field":"series","type":"nominal","scale":{"domain":["T_CAM4","T_CAM5","T_OBS","RH_CAM5","RH_OBS","PW_CAM4","PW_CAM5","PW_OBS"],"range":["#ec1c24","#2e3192","#000000","#2e3192","#000000","#ec1c24","#2e3192","#000000"]},"legend":null}}},
   {"transform":[{"filter":"datum.cat === 'shallow'"},{"fold":["RH_CAM5","RH_OBS"],"as":["series","value"]}],"mark":{"type":"point","opacity":0},"encoding":{"x":{"field":"utc","type":"quantitative","scale":{"domain":[0,24],"nice":false},"axis":{"orient":"top","values":[0,1,2,3,4,5,6,7,8,9,10,11,12,13,14,15,16,17,18,19,20,21,22,23,24],"labels":false,"tickSize":{"condition":{"test":"datum.value % 4 === 0","value":11},"value":6},"title":null}},"y":{"field":"value","type":"quantitative","scale":{"domain":[0,100],"nice":false},"axis":{"orient":"right","values":[0,5,10,15,20,25,30,35,40,45,50,55,60,65,70,75,80,85,90,95,100],"labels":false,"tickSize":{"condition":{"test":"datum.value % 20 === 0","value":11},"value":6},"title":null}}}},
   {"data":{"values":[{"utc":18.2}]},"mark":{"type":"rule","color":"#e61e8c","strokeWidth":11},"encoding":{"x":{"field":"utc","type":"quantitative","axis":null},"y":{"datum":-15.772,"type":"quantitative","axis":null},"y2":{"datum":115.772}}}
  ],"resolve":{"axis":{"x":"independent","y":"independent"}}},
  {"width":541,"height":298,"layer":[
   {"transform":[{"filter":"datum.cat === 'shallow'"},{"fold":["PW_CAM4","PW_CAM5","PW_OBS"],"as":["series","value"]}],"mark":{"type":"line","strokeWidth":3,"interpolate":"monotone"},"encoding":{"x":{"field":"utc","type":"quantitative","scale":{"domain":[0,24],"nice":false},"axis":{"orient":"bottom","values":[0,1,2,3,4,5,6,7,8,9,10,11,12,13,14,15,16,17,18,19,20,21,22,23,24],"labelExpr":"datum.value % 4 === 0 ? datum.label : ''","tickSize":{"condition":{"test":"datum.value % 4 === 0","value":11},"value":6},"title":"UTC"}},"y":{"field":"value","type":"quantitative","scale":{"domain":[2,4],"nice":false,"zero":false},"axis":{"orient":"left","values":[2,2.1,2.2,2.3,2.4,2.5,2.6,2.7,2.8,2.9,3,3.1,3.2,3.3,3.4,3.5,3.6,3.7,3.8,3.9,4],"format":".1f","labelExpr":"round(datum.value*10) % 4 === 0 ? datum.label : ''","tickSize":{"condition":{"test":"round(datum.value*10) % 4 === 0","value":11},"value":6},"title":"Precipitable Water (cm)"}},"color":{"field":"series","type":"nominal","scale":{"domain":["T_CAM4","T_CAM5","T_OBS","RH_CAM5","RH_OBS","PW_CAM4","PW_CAM5","PW_OBS"],"range":["#ec1c24","#2e3192","#000000","#2e3192","#000000","#ec1c24","#2e3192","#000000"]},"legend":null}}},
   {"transform":[{"filter":"datum.cat === 'shallow'"},{"fold":["PW_CAM4","PW_CAM5","PW_OBS"],"as":["series","value"]}],"mark":{"type":"point","opacity":0},"encoding":{"x":{"field":"utc","type":"quantitative","scale":{"domain":[0,24],"nice":false},"axis":{"orient":"top","values":[0,1,2,3,4,5,6,7,8,9,10,11,12,13,14,15,16,17,18,19,20,21,22,23,24],"labels":false,"tickSize":{"condition":{"test":"datum.value % 4 === 0","value":11},"value":6},"title":null}},"y":{"field":"value","type":"quantitative","scale":{"domain":[2,4],"nice":false,"zero":false},"axis":{"orient":"right","values":[2,2.1,2.2,2.3,2.4,2.5,2.6,2.7,2.8,2.9,3,3.1,3.2,3.3,3.4,3.5,3.6,3.7,3.8,3.9,4],"labels":false,"tickSize":{"condition":{"test":"round(datum.value*10) % 4 === 0","value":11},"value":6},"title":null}}}},
   {"data":{"values":[{"utc":18.0}]},"mark":{"type":"rule","color":"#e61e8c","strokeWidth":11},"encoding":{"x":{"field":"utc","type":"quantitative","axis":null},"y":{"datum":1.68456,"type":"quantitative","axis":null},"y2":{"datum":4.31544}}}
  ],"resolve":{"axis":{"x":"independent","y":"independent"}}},

  {"width":285,"height":298,"data":{"values":[{"label":"late|afternoon|precip"}]},"mark":{"type":"text","align":"left","baseline":"alphabetic","lineBreak":"|","fontSize":76,"fontWeight":600,"lineHeight":96,"font":"Open Sans","color":"#238c37"},"encoding":{"text":{"field":"label","type":"nominal"},"x":{"datum":0,"type":"quantitative","scale":{"domain":[0,1]},"axis":null},"y":{"datum":0.258,"type":"quantitative","scale":{"domain":[0,1],"reverse":true},"axis":null}}},
  {"width":541,"height":298,"layer":[
   {"transform":[{"filter":"datum.cat === 'late'"},{"fold":["T_CAM4","T_CAM5","T_OBS"],"as":["series","value"]}],"mark":{"type":"line","strokeWidth":2.5},"encoding":{"x":{"field":"utc","type":"quantitative","scale":{"domain":[0,24],"nice":false},"axis":{"orient":"bottom","values":[0,1,2,3,4,5,6,7,8,9,10,11,12,13,14,15,16,17,18,19,20,21,22,23,24],"labelExpr":"datum.value % 4 === 0 ? datum.label : ''","tickSize":{"condition":{"test":"datum.value % 4 === 0","value":11},"value":6},"title":"UTC"}},"y":{"field":"value","type":"quantitative","scale":{"domain":[288,316],"nice":false,"zero":false},"axis":{"orient":"left","values":[288,289,290,291,292,293,294,295,296,297,298,299,300,301,302,303,304,305,306,307,308,309,310,311,312,313,314,315,316],"labelExpr":"datum.value % 4 === 0 ? datum.label : ''","tickSize":{"condition":{"test":"datum.value % 4 === 0","value":11},"value":6},"title":"2m Temp (K)"}},"color":{"field":"series","type":"nominal","scale":{"domain":["T_CAM4","T_CAM5","T_OBS","RH_CAM5","RH_OBS","PW_CAM4","PW_CAM5","PW_OBS"],"range":["#ec1c24","#2e3192","#000000","#2e3192","#000000","#ec1c24","#2e3192","#000000"]},"legend":null}}},
   {"transform":[{"filter":"datum.cat === 'late'"},{"fold":["T_CAM4","T_CAM5","T_OBS"],"as":["series","value"]}],"mark":{"type":"point","opacity":0},"encoding":{"x":{"field":"utc","type":"quantitative","scale":{"domain":[0,24],"nice":false},"axis":{"orient":"top","values":[0,1,2,3,4,5,6,7,8,9,10,11,12,13,14,15,16,17,18,19,20,21,22,23,24],"labels":false,"tickSize":{"condition":{"test":"datum.value % 4 === 0","value":11},"value":6},"title":null}},"y":{"field":"value","type":"quantitative","scale":{"domain":[288,316],"nice":false,"zero":false},"axis":{"orient":"right","values":[288,289,290,291,292,293,294,295,296,297,298,299,300,301,302,303,304,305,306,307,308,309,310,311,312,313,314,315,316],"labels":false,"tickSize":{"condition":{"test":"datum.value % 4 === 0","value":11},"value":6},"title":null}}}},
   {"data":{"values":[{"utc":18.15}]},"mark":{"type":"rule","color":"#e61e8c","strokeWidth":11},"encoding":{"x":{"field":"utc","type":"quantitative","axis":null},"y":{"datum":283.584,"type":"quantitative","axis":null},"y2":{"datum":320.416}}}
  ],"resolve":{"axis":{"x":"independent","y":"independent"}}},
  {"width":541,"height":298,"layer":[
   {"transform":[{"filter":"datum.cat === 'late'"},{"fold":["RH_CAM5","RH_OBS"],"as":["series","value"]}],"mark":{"type":"line","strokeWidth":2.5},"encoding":{"x":{"field":"utc","type":"quantitative","scale":{"domain":[0,24],"nice":false},"axis":{"orient":"bottom","values":[0,1,2,3,4,5,6,7,8,9,10,11,12,13,14,15,16,17,18,19,20,21,22,23,24],"labelExpr":"datum.value % 4 === 0 ? datum.label : ''","tickSize":{"condition":{"test":"datum.value % 4 === 0","value":11},"value":6},"title":"UTC"}},"y":{"field":"value","type":"quantitative","scale":{"domain":[0,100],"nice":false},"axis":{"orient":"left","values":[0,5,10,15,20,25,30,35,40,45,50,55,60,65,70,75,80,85,90,95,100],"labelExpr":"datum.value % 20 === 0 ? datum.label : ''","tickSize":{"condition":{"test":"datum.value % 20 === 0","value":11},"value":6},"title":"Surf. RH (%)"}},"color":{"field":"series","type":"nominal","scale":{"domain":["T_CAM4","T_CAM5","T_OBS","RH_CAM5","RH_OBS","PW_CAM4","PW_CAM5","PW_OBS"],"range":["#ec1c24","#2e3192","#000000","#2e3192","#000000","#ec1c24","#2e3192","#000000"]},"legend":null}}},
   {"transform":[{"filter":"datum.cat === 'late'"},{"fold":["RH_CAM5","RH_OBS"],"as":["series","value"]}],"mark":{"type":"point","opacity":0},"encoding":{"x":{"field":"utc","type":"quantitative","scale":{"domain":[0,24],"nice":false},"axis":{"orient":"top","values":[0,1,2,3,4,5,6,7,8,9,10,11,12,13,14,15,16,17,18,19,20,21,22,23,24],"labels":false,"tickSize":{"condition":{"test":"datum.value % 4 === 0","value":11},"value":6},"title":null}},"y":{"field":"value","type":"quantitative","scale":{"domain":[0,100],"nice":false},"axis":{"orient":"right","values":[0,5,10,15,20,25,30,35,40,45,50,55,60,65,70,75,80,85,90,95,100],"labels":false,"tickSize":{"condition":{"test":"datum.value % 20 === 0","value":11},"value":6},"title":null}}}},
   {"data":{"values":[{"utc":18.2}]},"mark":{"type":"rule","color":"#e61e8c","strokeWidth":11},"encoding":{"x":{"field":"utc","type":"quantitative","axis":null},"y":{"datum":-15.772,"type":"quantitative","axis":null},"y2":{"datum":115.772}}}
  ],"resolve":{"axis":{"x":"independent","y":"independent"}}},
  {"width":541,"height":298,"layer":[
   {"transform":[{"filter":"datum.cat === 'late'"},{"fold":["PW_CAM4","PW_CAM5","PW_OBS"],"as":["series","value"]}],"mark":{"type":"line","strokeWidth":3,"interpolate":"monotone"},"encoding":{"x":{"field":"utc","type":"quantitative","scale":{"domain":[0,24],"nice":false},"axis":{"orient":"bottom","values":[0,1,2,3,4,5,6,7,8,9,10,11,12,13,14,15,16,17,18,19,20,21,22,23,24],"labelExpr":"datum.value % 4 === 0 ? datum.label : ''","tickSize":{"condition":{"test":"datum.value % 4 === 0","value":11},"value":6},"title":"UTC"}},"y":{"field":"value","type":"quantitative","scale":{"domain":[2,4],"nice":false,"zero":false},"axis":{"orient":"left","values":[2,2.1,2.2,2.3,2.4,2.5,2.6,2.7,2.8,2.9,3,3.1,3.2,3.3,3.4,3.5,3.6,3.7,3.8,3.9,4],"format":".1f","labelExpr":"round(datum.value*10) % 4 === 0 ? datum.label : ''","tickSize":{"condition":{"test":"round(datum.value*10) % 4 === 0","value":11},"value":6},"title":"Precipitable Water (cm)"}},"color":{"field":"series","type":"nominal","scale":{"domain":["T_CAM4","T_CAM5","T_OBS","RH_CAM5","RH_OBS","PW_CAM4","PW_CAM5","PW_OBS"],"range":["#ec1c24","#2e3192","#000000","#2e3192","#000000","#ec1c24","#2e3192","#000000"]},"legend":null}}},
   {"transform":[{"filter":"datum.cat === 'late'"},{"fold":["PW_CAM4","PW_CAM5","PW_OBS"],"as":["series","value"]}],"mark":{"type":"point","opacity":0},"encoding":{"x":{"field":"utc","type":"quantitative","scale":{"domain":[0,24],"nice":false},"axis":{"orient":"top","values":[0,1,2,3,4,5,6,7,8,9,10,11,12,13,14,15,16,17,18,19,20,21,22,23,24],"labels":false,"tickSize":{"condition":{"test":"datum.value % 4 === 0","value":11},"value":6},"title":null}},"y":{"field":"value","type":"quantitative","scale":{"domain":[2,4],"nice":false,"zero":false},"axis":{"orient":"right","values":[2,2.1,2.2,2.3,2.4,2.5,2.6,2.7,2.8,2.9,3,3.1,3.2,3.3,3.4,3.5,3.6,3.7,3.8,3.9,4],"labels":false,"tickSize":{"condition":{"test":"round(datum.value*10) % 4 === 0","value":11},"value":6},"title":null}}}},
   {"data":{"values":[{"utc":18.0}]},"mark":{"type":"rule","color":"#e61e8c","strokeWidth":11},"encoding":{"x":{"field":"utc","type":"quantitative","axis":null},"y":{"datum":1.68456,"type":"quantitative","axis":null},"y2":{"datum":4.31544}}}
  ],"resolve":{"axis":{"x":"independent","y":"independent"}}},

  {"width":285,"height":298,"data":{"values":[{"label":"nocturnal|Precip"}]},"mark":{"type":"text","align":"left","baseline":"alphabetic","lineBreak":"|","fontSize":76,"fontWeight":600,"lineHeight":96,"font":"Open Sans","color":"#238c37"},"encoding":{"text":{"field":"label","type":"nominal"},"x":{"datum":0,"type":"quantitative","scale":{"domain":[0,1]},"axis":null},"y":{"datum":0.547,"type":"quantitative","scale":{"domain":[0,1],"reverse":true},"axis":null}}},
  {"width":541,"height":298,"layer":[
   {"transform":[{"filter":"datum.cat === 'noct'"},{"fold":["T_CAM4","T_CAM5","T_OBS"],"as":["series","value"]}],"mark":{"type":"line","strokeWidth":2.5},"encoding":{"x":{"field":"utc","type":"quantitative","scale":{"domain":[0,24],"nice":false},"axis":{"orient":"bottom","values":[0,1,2,3,4,5,6,7,8,9,10,11,12,13,14,15,16,17,18,19,20,21,22,23,24],"labelExpr":"datum.value % 4 === 0 ? datum.label : ''","tickSize":{"condition":{"test":"datum.value % 4 === 0","value":11},"value":6},"title":"UTC"}},"y":{"field":"value","type":"quantitative","scale":{"domain":[288,316],"nice":false,"zero":false},"axis":{"orient":"left","values":[288,289,290,291,292,293,294,295,296,297,298,299,300,301,302,303,304,305,306,307,308,309,310,311,312,313,314,315,316],"labelExpr":"datum.value % 4 === 0 ? datum.label : ''","tickSize":{"condition":{"test":"datum.value % 4 === 0","value":11},"value":6},"title":"2m Temp (K)"}},"color":{"field":"series","type":"nominal","scale":{"domain":["T_CAM4","T_CAM5","T_OBS","RH_CAM5","RH_OBS","PW_CAM4","PW_CAM5","PW_OBS"],"range":["#ec1c24","#2e3192","#000000","#2e3192","#000000","#ec1c24","#2e3192","#000000"]},"legend":null}}},
   {"transform":[{"filter":"datum.cat === 'noct'"},{"fold":["T_CAM4","T_CAM5","T_OBS"],"as":["series","value"]}],"mark":{"type":"point","opacity":0},"encoding":{"x":{"field":"utc","type":"quantitative","scale":{"domain":[0,24],"nice":false},"axis":{"orient":"top","values":[0,1,2,3,4,5,6,7,8,9,10,11,12,13,14,15,16,17,18,19,20,21,22,23,24],"labels":false,"tickSize":{"condition":{"test":"datum.value % 4 === 0","value":11},"value":6},"title":null}},"y":{"field":"value","type":"quantitative","scale":{"domain":[288,316],"nice":false,"zero":false},"axis":{"orient":"right","values":[288,289,290,291,292,293,294,295,296,297,298,299,300,301,302,303,304,305,306,307,308,309,310,311,312,313,314,315,316],"labels":false,"tickSize":{"condition":{"test":"datum.value % 4 === 0","value":11},"value":6},"title":null}}}},
   {"data":{"values":[{"utc":18.15}]},"mark":{"type":"rule","color":"#e61e8c","strokeWidth":11},"encoding":{"x":{"field":"utc","type":"quantitative","axis":null},"y":{"datum":283.584,"type":"quantitative","axis":null},"y2":{"datum":320.416}}}
  ],"resolve":{"axis":{"x":"independent","y":"independent"}}},
  {"width":541,"height":298,"layer":[
   {"transform":[{"filter":"datum.cat === 'noct'"},{"fold":["RH_CAM5","RH_OBS"],"as":["series","value"]}],"mark":{"type":"line","strokeWidth":2.5},"encoding":{"x":{"field":"utc","type":"quantitative","scale":{"domain":[0,24],"nice":false},"axis":{"orient":"bottom","values":[0,1,2,3,4,5,6,7,8,9,10,11,12,13,14,15,16,17,18,19,20,21,22,23,24],"labelExpr":"datum.value % 4 === 0 ? datum.label : ''","tickSize":{"condition":{"test":"datum.value % 4 === 0","value":11},"value":6},"title":"UTC"}},"y":{"field":"value","type":"quantitative","scale":{"domain":[0,100],"nice":false},"axis":{"orient":"left","values":[0,5,10,15,20,25,30,35,40,45,50,55,60,65,70,75,80,85,90,95,100],"labelExpr":"datum.value % 20 === 0 ? datum.label : ''","tickSize":{"condition":{"test":"datum.value % 20 === 0","value":11},"value":6},"title":"Surf. RH (%)"}},"color":{"field":"series","type":"nominal","scale":{"domain":["T_CAM4","T_CAM5","T_OBS","RH_CAM5","RH_OBS","PW_CAM4","PW_CAM5","PW_OBS"],"range":["#ec1c24","#2e3192","#000000","#2e3192","#000000","#ec1c24","#2e3192","#000000"]},"legend":null}}},
   {"transform":[{"filter":"datum.cat === 'noct'"},{"fold":["RH_CAM5","RH_OBS"],"as":["series","value"]}],"mark":{"type":"point","opacity":0},"encoding":{"x":{"field":"utc","type":"quantitative","scale":{"domain":[0,24],"nice":false},"axis":{"orient":"top","values":[0,1,2,3,4,5,6,7,8,9,10,11,12,13,14,15,16,17,18,19,20,21,22,23,24],"labels":false,"tickSize":{"condition":{"test":"datum.value % 4 === 0","value":11},"value":6},"title":null}},"y":{"field":"value","type":"quantitative","scale":{"domain":[0,100],"nice":false},"axis":{"orient":"right","values":[0,5,10,15,20,25,30,35,40,45,50,55,60,65,70,75,80,85,90,95,100],"labels":false,"tickSize":{"condition":{"test":"datum.value % 20 === 0","value":11},"value":6},"title":null}}}},
   {"data":{"values":[{"utc":18.2}]},"mark":{"type":"rule","color":"#e61e8c","strokeWidth":11},"encoding":{"x":{"field":"utc","type":"quantitative","axis":null},"y":{"datum":-15.772,"type":"quantitative","axis":null},"y2":{"datum":115.772}}}
  ],"resolve":{"axis":{"x":"independent","y":"independent"}}},
  {"width":541,"height":298,"layer":[
   {"transform":[{"filter":"datum.cat === 'noct'"},{"fold":["PW_CAM4","PW_CAM5","PW_OBS"],"as":["series","value"]}],"mark":{"type":"line","strokeWidth":3,"interpolate":"monotone"},"encoding":{"x":{"field":"utc","type":"quantitative","scale":{"domain":[0,24],"nice":false},"axis":{"orient":"bottom","values":[0,1,2,3,4,5,6,7,8,9,10,11,12,13,14,15,16,17,18,19,20,21,22,23,24],"labelExpr":"datum.value % 4 === 0 ? datum.label : ''","tickSize":{"condition":{"test":"datum.value % 4 === 0","value":11},"value":6},"title":"UTC"}},"y":{"field":"value","type":"quantitative","scale":{"domain":[2,4],"nice":false,"zero":false},"axis":{"orient":"left","values":[2,2.1,2.2,2.3,2.4,2.5,2.6,2.7,2.8,2.9,3,3.1,3.2,3.3,3.4,3.5,3.6,3.7,3.8,3.9,4],"format":".1f","labelExpr":"round(datum.value*10) % 4 === 0 ? datum.label : ''","tickSize":{"condition":{"test":"round(datum.value*10) % 4 === 0","value":11},"value":6},"title":"Precipitable Water (cm)"}},"color":{"field":"series","type":"nominal","scale":{"domain":["T_CAM4","T_CAM5","T_OBS","RH_CAM5","RH_OBS","PW_CAM4","PW_CAM5","PW_OBS"],"range":["#ec1c24","#2e3192","#000000","#2e3192","#000000","#ec1c24","#2e3192","#000000"]},"legend":null}}},
   {"transform":[{"filter":"datum.cat === 'noct'"},{"fold":["PW_CAM4","PW_CAM5","PW_OBS"],"as":["series","value"]}],"mark":{"type":"point","opacity":0},"encoding":{"x":{"field":"utc","type":"quantitative","scale":{"domain":[0,24],"nice":false},"axis":{"orient":"top","values":[0,1,2,3,4,5,6,7,8,9,10,11,12,13,14,15,16,17,18,19,20,21,22,23,24],"labels":false,"tickSize":{"condition":{"test":"datum.value % 4 === 0","value":11},"value":6},"title":null}},"y":{"field":"value","type":"quantitative","scale":{"domain":[2,4],"nice":false,"zero":false},"axis":{"orient":"right","values":[2,2.1,2.2,2.3,2.4,2.5,2.6,2.7,2.8,2.9,3,3.1,3.2,3.3,3.4,3.5,3.6,3.7,3.8,3.9,4],"labels":false,"tickSize":{"condition":{"test":"round(datum.value*10) % 4 === 0","value":11},"value":6},"title":null}}}},
   {"data":{"values":[{"utc":18.0}]},"mark":{"type":"rule","color":"#e61e8c","strokeWidth":11},"encoding":{"x":{"field":"utc","type":"quantitative","axis":null},"y":{"datum":1.68456,"type":"quantitative","axis":null},"y2":{"datum":4.31544}}},
   {"data":{"values":[{"note":"highlight"}]},"mark":{"type":"point","shape":"M-1,0A1,0.603,0,1,0,1,0A1,0.603,0,1,0,-1,0Z","size":476100,"filled":false,"strokeWidth":13,"color":"#31398f","opacity":1,"strokeOpacity":1},"encoding":{"x":{"datum":11.93,"type":"quantitative","axis":null},"y":{"datum":3.201,"type":"quantitative","axis":null}}}
  ],"resolve":{"axis":{"x":"independent","y":"independent"}}},

  {"width":285,"height":298,"data":{"values":[{"label":"All"}]},"mark":{"type":"text","align":"left","baseline":"alphabetic","lineBreak":"|","fontSize":76,"fontWeight":600,"lineHeight":96,"font":"Open Sans","color":"#238c37"},"encoding":{"text":{"field":"label","type":"nominal"},"x":{"datum":0.596,"type":"quantitative","scale":{"domain":[0,1]},"axis":null},"y":{"datum":0.523,"type":"quantitative","scale":{"domain":[0,1],"reverse":true},"axis":null}}},
  {"width":541,"height":298,"layer":[
   {"transform":[{"filter":"datum.cat === 'all'"},{"fold":["T_CAM4","T_CAM5","T_OBS"],"as":["series","value"]}],"mark":{"type":"line","strokeWidth":2.5},"encoding":{"x":{"field":"utc","type":"quantitative","scale":{"domain":[0,24],"nice":false},"axis":{"orient":"bottom","values":[0,1,2,3,4,5,6,7,8,9,10,11,12,13,14,15,16,17,18,19,20,21,22,23,24],"labelExpr":"datum.value % 4 === 0 ? datum.label : ''","tickSize":{"condition":{"test":"datum.value % 4 === 0","value":11},"value":6},"title":"UTC"}},"y":{"field":"value","type":"quantitative","scale":{"domain":[288,316],"nice":false,"zero":false},"axis":{"orient":"left","values":[288,289,290,291,292,293,294,295,296,297,298,299,300,301,302,303,304,305,306,307,308,309,310,311,312,313,314,315,316],"labelExpr":"datum.value % 4 === 0 ? datum.label : ''","tickSize":{"condition":{"test":"datum.value % 4 === 0","value":11},"value":6},"title":"2m Temp (K)"}},"color":{"field":"series","type":"nominal","scale":{"domain":["T_CAM4","T_CAM5","T_OBS","RH_CAM5","RH_OBS","PW_CAM4","PW_CAM5","PW_OBS"],"range":["#ec1c24","#2e3192","#000000","#2e3192","#000000","#ec1c24","#2e3192","#000000"]},"legend":null}}},
   {"transform":[{"filter":"datum.cat === 'all'"},{"fold":["T_CAM4","T_CAM5","T_OBS"],"as":["series","value"]}],"mark":{"type":"point","opacity":0},"encoding":{"x":{"field":"utc","type":"quantitative","scale":{"domain":[0,24],"nice":false},"axis":{"orient":"top","values":[0,1,2,3,4,5,6,7,8,9,10,11,12,13,14,15,16,17,18,19,20,21,22,23,24],"labels":false,"tickSize":{"condition":{"test":"datum.value % 4 === 0","value":11},"value":6},"title":null}},"y":{"field":"value","type":"quantitative","scale":{"domain":[288,316],"nice":false,"zero":false},"axis":{"orient":"right","values":[288,289,290,291,292,293,294,295,296,297,298,299,300,301,302,303,304,305,306,307,308,309,310,311,312,313,314,315,316],"labels":false,"tickSize":{"condition":{"test":"datum.value % 4 === 0","value":11},"value":6},"title":null}}}},
   {"data":{"values":[{"utc":18.15}]},"mark":{"type":"rule","color":"#e61e8c","strokeWidth":11},"encoding":{"x":{"field":"utc","type":"quantitative","axis":null},"y":{"datum":282.644,"type":"quantitative","axis":null},"y2":{"datum":320.416}}}
  ],"resolve":{"axis":{"x":"independent","y":"independent"}}},
  {"width":541,"height":298,"layer":[
   {"transform":[{"filter":"datum.cat === 'all'"},{"fold":["RH_CAM5","RH_OBS"],"as":["series","value"]}],"mark":{"type":"line","strokeWidth":2.5},"encoding":{"x":{"field":"utc","type":"quantitative","scale":{"domain":[0,24],"nice":false},"axis":{"orient":"bottom","values":[0,1,2,3,4,5,6,7,8,9,10,11,12,13,14,15,16,17,18,19,20,21,22,23,24],"labelExpr":"datum.value % 4 === 0 ? datum.label : ''","tickSize":{"condition":{"test":"datum.value % 4 === 0","value":11},"value":6},"title":"UTC"}},"y":{"field":"value","type":"quantitative","scale":{"domain":[0,100],"nice":false},"axis":{"orient":"left","values":[0,5,10,15,20,25,30,35,40,45,50,55,60,65,70,75,80,85,90,95,100],"labelExpr":"datum.value % 20 === 0 ? datum.label : ''","tickSize":{"condition":{"test":"datum.value % 20 === 0","value":11},"value":6},"title":"Surf. RH (%)"}},"color":{"field":"series","type":"nominal","scale":{"domain":["T_CAM4","T_CAM5","T_OBS","RH_CAM5","RH_OBS","PW_CAM4","PW_CAM5","PW_OBS"],"range":["#ec1c24","#2e3192","#000000","#2e3192","#000000","#ec1c24","#2e3192","#000000"]},"legend":null}}},
   {"transform":[{"filter":"datum.cat === 'all'"},{"fold":["RH_CAM5","RH_OBS"],"as":["series","value"]}],"mark":{"type":"point","opacity":0},"encoding":{"x":{"field":"utc","type":"quantitative","scale":{"domain":[0,24],"nice":false},"axis":{"orient":"top","values":[0,1,2,3,4,5,6,7,8,9,10,11,12,13,14,15,16,17,18,19,20,21,22,23,24],"labels":false,"tickSize":{"condition":{"test":"datum.value % 4 === 0","value":11},"value":6},"title":null}},"y":{"field":"value","type":"quantitative","scale":{"domain":[0,100],"nice":false},"axis":{"orient":"right","values":[0,5,10,15,20,25,30,35,40,45,50,55,60,65,70,75,80,85,90,95,100],"labels":false,"tickSize":{"condition":{"test":"datum.value % 20 === 0","value":11},"value":6},"title":null}}}},
   {"data":{"values":[{"utc":18.2}]},"mark":{"type":"rule","color":"#e61e8c","strokeWidth":11},"encoding":{"x":{"field":"utc","type":"quantitative","axis":null},"y":{"datum":-19.128,"type":"quantitative","axis":null},"y2":{"datum":115.772}}}
  ],"resolve":{"axis":{"x":"independent","y":"independent"}}},
  {"width":541,"height":298,"layer":[
   {"transform":[{"filter":"datum.cat === 'all'"},{"fold":["PW_CAM4","PW_CAM5","PW_OBS"],"as":["series","value"]}],"mark":{"type":"line","strokeWidth":3,"interpolate":"monotone"},"encoding":{"x":{"field":"utc","type":"quantitative","scale":{"domain":[0,24],"nice":false},"axis":{"orient":"bottom","values":[0,1,2,3,4,5,6,7,8,9,10,11,12,13,14,15,16,17,18,19,20,21,22,23,24],"labelExpr":"datum.value % 4 === 0 ? datum.label : ''","tickSize":{"condition":{"test":"datum.value % 4 === 0","value":11},"value":6},"title":"UTC"}},"y":{"field":"value","type":"quantitative","scale":{"domain":[2,4],"nice":false,"zero":false},"axis":{"orient":"left","values":[2,2.1,2.2,2.3,2.4,2.5,2.6,2.7,2.8,2.9,3,3.1,3.2,3.3,3.4,3.5,3.6,3.7,3.8,3.9,4],"format":".1f","labelExpr":"round(datum.value*10) % 4 === 0 ? datum.label : ''","tickSize":{"condition":{"test":"round(datum.value*10) % 4 === 0","value":11},"value":6},"title":"Precipitable Water (cm)"}},"color":{"field":"series","type":"nominal","scale":{"domain":["T_CAM4","T_CAM5","T_OBS","RH_CAM5","RH_OBS","PW_CAM4","PW_CAM5","PW_OBS"],"range":["#ec1c24","#2e3192","#000000","#2e3192","#000000","#ec1c24","#2e3192","#000000"]},"legend":null}}},
   {"transform":[{"filter":"datum.cat === 'all'"},{"fold":["PW_CAM4","PW_CAM5","PW_OBS"],"as":["series","value"]}],"mark":{"type":"point","opacity":0},"encoding":{"x":{"field":"utc","type":"quantitative","scale":{"domain":[0,24],"nice":false},"axis":{"orient":"top","values":[0,1,2,3,4,5,6,7,8,9,10,11,12,13,14,15,16,17,18,19,20,21,22,23,24],"labels":false,"tickSize":{"condition":{"test":"datum.value % 4 === 0","value":11},"value":6},"title":null}},"y":{"field":"value","type":"quantitative","scale":{"domain":[2,4],"nice":false,"zero":false},"axis":{"orient":"right","values":[2,2.1,2.2,2.3,2.4,2.5,2.6,2.7,2.8,2.9,3,3.1,3.2,3.3,3.4,3.5,3.6,3.7,3.8,3.9,4],"labels":false,"tickSize":{"condition":{"test":"round(datum.value*10) % 4 === 0","value":11},"value":6},"title":null}}}},
   {"data":{"values":[{"utc":18.0}]},"mark":{"type":"rule","color":"#e61e8c","strokeWidth":11},"encoding":{"x":{"field":"utc","type":"quantitative","axis":null},"y":{"datum":1.7047,"type":"quantitative","axis":null},"y2":{"datum":4.31544}}}
  ],"resolve":{"axis":{"x":"independent","y":"independent"}}}
 ]}
]
}
